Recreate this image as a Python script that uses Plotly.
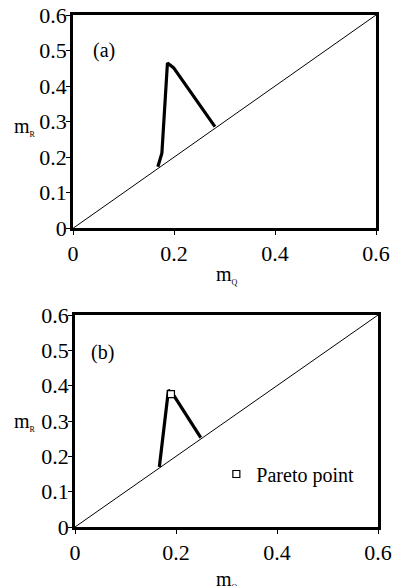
import plotly.graph_objects as go

# Data
diag = [0.0, 0.6]
a_mq = [0.168, 0.176, 0.187, 0.199, 0.281]
a_mr = [0.173, 0.211, 0.465, 0.452, 0.286]
b_mq = [0.167, 0.185, 0.193, 0.249]
b_mr = [0.170, 0.387, 0.378, 0.253]
pareto_mq = [0.190]
pareto_mr = [0.376]
x_ticks = [0, 0.2, 0.4, 0.6]
y_ticks = [0, 0.1, 0.2, 0.3, 0.4, 0.5, 0.6]

FONT = "Liberation Serif"
fig = go.Figure()

fig.add_trace(go.Scatter(x=diag, y=diag, mode="lines", line=dict(color="black", width=1),
                         xaxis="x", yaxis="y", showlegend=False, hoverinfo="skip"))
fig.add_trace(go.Scatter(x=a_mq, y=a_mr, mode="lines", line=dict(color="black", width=3.2),
                         xaxis="x", yaxis="y", showlegend=False))
fig.add_trace(go.Scatter(x=diag, y=diag, mode="lines", line=dict(color="black", width=1),
                         xaxis="x2", yaxis="y2", showlegend=False, hoverinfo="skip"))
fig.add_trace(go.Scatter(x=b_mq, y=b_mr, mode="lines", line=dict(color="black", width=3.2),
                         xaxis="x2", yaxis="y2", showlegend=False))
fig.add_trace(go.Scatter(x=pareto_mq, y=pareto_mr, mode="markers", name="Pareto point",
                         marker=dict(symbol="square", size=7, color="white",
                                     line=dict(color="black", width=1.2)),
                         xaxis="x2", yaxis="y2", showlegend=True))

axis_common = dict(range=[0, 0.6], showgrid=False, zeroline=False, showline=True, mirror=True,
                   linecolor="black", linewidth=2.5, ticks="outside", ticklen=4, tickwidth=1,
                   tickcolor="black", automargin=False,
                   tickfont=dict(family=FONT, size=22, color="black"))
yaxis_extra = dict(ticklabelstandoff=-5)

fig.update_layout(
    width=396, height=586,
    margin=dict(l=73, r=18, t=15, b=59),
    paper_bgcolor="white", plot_bgcolor="white",
    font=dict(family=FONT, color="black"),
    xaxis=dict(domain=[0, 303/305], anchor="y", tickvals=x_ticks,
               ticktext=["0", "0.2", "0.4", "0.6"], **axis_common),
    yaxis=dict(domain=[0.5834, 1.0], anchor="x", tickvals=y_ticks,
               ticktext=["0", "0.1", "0.2", "0.3", "0.4", "0.5", "0.6"],
               **axis_common, **yaxis_extra),
    xaxis2=dict(domain=[2/305, 1.0], anchor="y2", tickvals=x_ticks,
                ticktext=["0", "0.2", "0.4", "0.6"], **axis_common),
    yaxis2=dict(domain=[0.0, 0.414], anchor="x2", tickvals=y_ticks,
                ticktext=["0", "0.1", "0.2", "0.3", "0.4", "0.5", "0.6"],
                **axis_common, **yaxis_extra),
    legend=dict(x=0.47, y=0.1035, xanchor="left", yanchor="middle",
                bgcolor="rgba(0,0,0,0)", borderwidth=0,
                font=dict(family=FONT, size=20, color="black"),
                itemwidth=30),
    showlegend=True,
)

def lab(text, x, y, size=20):
    fig.add_annotation(text=text, x=x, y=y, xref="paper", yref="paper",
                       xanchor="center", yanchor="middle", showarrow=False,
                       font=dict(family=FONT, size=size, color="black"))

def px_x(p):
    return (p - 73) / 305

def px_y(p):
    return (527 - p) / 512

sub = lambda s: "m<sub><span style='font-size:8px'>%s</span></sub>" % s
lab(sub("R"), px_x(25), px_y(127))
lab(sub("R"), px_x(25), px_y(422))
lab(sub("Q"), px_x(227), px_y(275))
lab(sub("Q"), px_x(227), px_y(580))
lab("(a)", px_x(104), px_y(50))
lab("(b)", px_x(102), px_y(352))

fig.write_html("out.html", config={"displayModeBar": False},
               post_script="document.body.style.margin='0';document.body.style.overflow='hidden';")
